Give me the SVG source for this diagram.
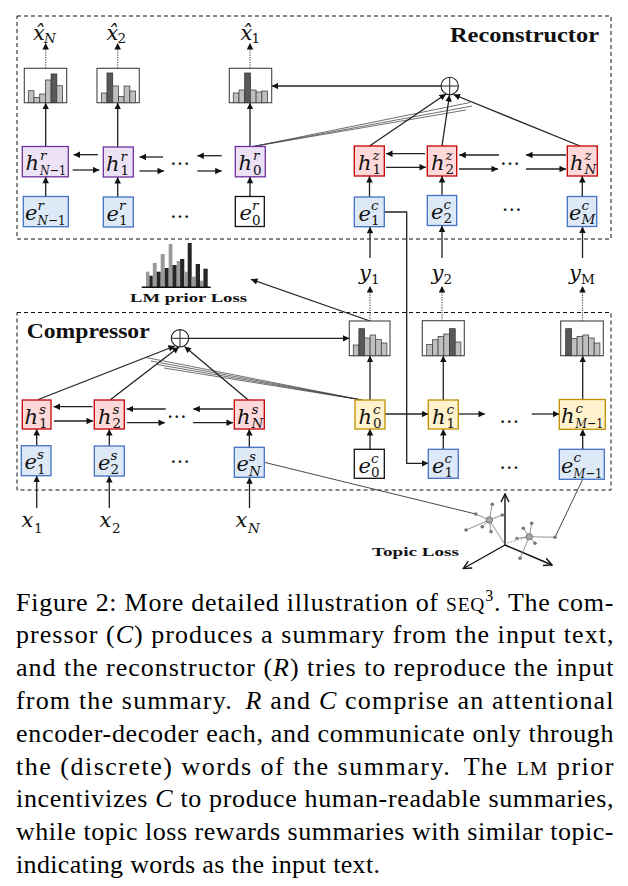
<svg xmlns="http://www.w3.org/2000/svg" width="628" height="886" viewBox="0 0 628 886">
<style>
.dash{fill:none;stroke:#111;stroke-width:1;stroke-dasharray:4 3}
.hr{fill:#ede1f5;stroke:#7030a0;stroke-width:1.3}
.hz{fill:#ffd9d9;stroke:#c00000;stroke-width:1.3}
.eb{fill:#dde9f6;stroke:#4472c4;stroke-width:1.3}
.ew{fill:#fff;stroke:#111;stroke-width:1.3}
.hc{fill:#fff2cc;stroke:#bf9000;stroke-width:1.3}
.hist{fill:#fff;stroke:#444;stroke-width:1.1}
.bl{fill:#bfbfbf;stroke:#444;stroke-width:0.8}
.bd{fill:#595959;stroke:#333;stroke-width:0.8}
.ln{fill:none;stroke:#222;stroke-width:1.3}
.fan{fill:none;stroke:#333;stroke-width:0.7}
.a{marker-end:url(#ah)}
.dt{fill:none;stroke:#555;stroke-width:1.2;stroke-dasharray:1.2 1.3;marker-end:url(#ah)}
.thin{fill:none;stroke:#333;stroke-width:0.9}
.spk{fill:none;stroke:#777;stroke-width:0.8}
.pt{fill:#777}
.ctr{fill:#a6a6a6;stroke:#666;stroke-width:0.8}
.ax{fill:none;stroke:#111;stroke-width:1.4;marker-end:url(#oa)}
.m{font-family:"DejaVu Serif",serif;font-style:italic;font-size:21px;fill:#111}
.s{font-family:"DejaVu Serif",serif;font-style:italic;font-size:13.5px;fill:#111}
.su{font-style:normal}
.ttl{font-family:"Liberation Serif","Times New Roman",serif;font-weight:bold;fill:#111}
.dots{font-family:"DejaVu Serif",serif;font-size:20px;fill:#111}
.cap{font-family:"Liberation Serif","Times New Roman",serif;font-size:26px;fill:#000}
.gb{fill:#999}
.db{fill:#262626}
</style>
<defs>
<marker id="ah" viewBox="0 0 10 10" refX="10" refY="5" markerWidth="7" markerHeight="6.5" markerUnits="userSpaceOnUse" orient="auto"><path d="M0,0 L10,5 L0,10 z" fill="#111"/></marker>
<marker id="oa" viewBox="0 0 10 10" refX="9" refY="5" markerWidth="10" markerHeight="10" markerUnits="userSpaceOnUse" orient="auto"><path d="M1,1 L9,5 L1,9" fill="none" stroke="#111" stroke-width="1.4"/></marker>
</defs>

<!-- containers -->
<g id="reconstructor">
<rect class="dash" x="17" y="16" width="594" height="223"/>
<text class="ttl" x="450" y="42" font-size="20" textLength="149" lengthAdjust="spacingAndGlyphs">Reconstructor</text>
</g>
<g id="compressor">
<rect class="dash" x="17" y="312.5" width="594" height="177.5"/>
<text class="ttl" x="26.7" y="338" font-size="20" textLength="123" lengthAdjust="spacingAndGlyphs">Compressor</text>
</g>

<!-- connectors -->
<g id="connectors">
<line class="ln a" x1="45.7" y1="146.5" x2="45.7" y2="102.7"/>
<line class="ln a" x1="117.7" y1="147" x2="117.7" y2="102.7"/>
<line class="ln a" x1="250" y1="146.5" x2="250" y2="102.7"/>
<line class="ln a" x1="45.7" y1="196.5" x2="45.7" y2="176.8"/>
<line class="ln a" x1="117.7" y1="197" x2="117.7" y2="177"/>
<line class="ln a" x1="250" y1="196.5" x2="250" y2="176.8"/>
<line class="ln a" x1="369.5" y1="197" x2="369.5" y2="176"/>
<line class="ln a" x1="442" y1="195.5" x2="442" y2="176"/>
<line class="ln a" x1="582.3" y1="196.5" x2="582.3" y2="176"/>
<line class="dt" x1="45.7" y1="68.3" x2="45.7" y2="43"/>
<line class="dt" x1="117.7" y1="68.3" x2="117.7" y2="43"/>
<line class="dt" x1="250" y1="68.3" x2="250" y2="43"/>
<line class="ln a" x1="98" y1="154.7" x2="73.5" y2="154.7"/>
<line class="ln a" x1="72.7" y1="170" x2="99.3" y2="170"/>
<line class="ln a" x1="163" y1="157" x2="139.5" y2="157"/>
<line class="ln a" x1="139.5" y1="171" x2="164" y2="171"/>
<line class="ln a" x1="221.7" y1="155.7" x2="197.3" y2="155.7"/>
<line class="ln a" x1="197.3" y1="171" x2="221.7" y2="171"/>
<line class="ln a" x1="425" y1="153.7" x2="386" y2="153.7"/>
<line class="ln a" x1="386" y1="167.3" x2="426" y2="167.3"/>
<line class="ln a" x1="499" y1="155" x2="459.3" y2="155"/>
<line class="ln a" x1="459" y1="169" x2="498" y2="169"/>
<line class="ln a" x1="566" y1="155" x2="526" y2="155"/>
<line class="ln a" x1="526" y1="169" x2="566" y2="169"/>
<line class="ln a" x1="441" y1="86" x2="271.7" y2="86"/>
<line class="ln a" x1="369.5" y1="146" x2="446" y2="94"/>
<line class="ln a" x1="442" y1="146" x2="449.5" y2="95"/>
<line class="ln a" x1="580" y1="146" x2="453.5" y2="94.5"/>
<line class="fan" x1="253" y1="146.5" x2="470" y2="102.5"/>
<line class="fan" x1="253" y1="146.5" x2="472" y2="106"/>
<line class="fan" x1="253" y1="146.5" x2="466" y2="110"/>
<line class="ln a" x1="370" y1="258" x2="370" y2="226.8"/>
<line class="ln a" x1="442" y1="258" x2="442" y2="225.5"/>
<line class="ln a" x1="582.5" y1="258" x2="582.5" y2="226.6"/>
<line class="dt" x1="370" y1="321" x2="370" y2="286"/>
<line class="dt" x1="442" y1="320.7" x2="442" y2="286"/>
<line class="dt" x1="582.5" y1="321" x2="582.5" y2="286"/>
<polyline class="ln a" points="384.3,212 406.7,212 406.7,463.3 428.3,463.3"/>
<line class="ln a" x1="370" y1="321" x2="251" y2="279.3"/>
<line class="ln a" x1="36.7" y1="445.7" x2="36.7" y2="429"/>
<line class="ln a" x1="109.3" y1="446" x2="109.3" y2="429"/>
<line class="ln a" x1="249.3" y1="447.3" x2="249.3" y2="429"/>
<line class="ln a" x1="370" y1="449.3" x2="370" y2="429"/>
<line class="ln a" x1="443.3" y1="449.3" x2="443.3" y2="429"/>
<line class="ln a" x1="582.7" y1="449.3" x2="582.7" y2="429.3"/>
<line class="ln a" x1="370" y1="400" x2="370" y2="355.7"/>
<line class="ln a" x1="443.3" y1="400" x2="443.3" y2="355.7"/>
<line class="ln a" x1="582.7" y1="399.5" x2="582.7" y2="355.7"/>
<line class="ln a" x1="36.7" y1="508" x2="36.7" y2="475.7"/>
<line class="ln a" x1="109.3" y1="508" x2="109.3" y2="476"/>
<line class="ln a" x1="249.5" y1="508" x2="249.5" y2="477.3"/>
<line class="ln a" x1="92.5" y1="406.7" x2="53.5" y2="406.7"/>
<line class="ln a" x1="54" y1="421" x2="93" y2="421"/>
<line class="ln a" x1="165.7" y1="409" x2="126.7" y2="409"/>
<line class="ln a" x1="127" y1="422.7" x2="165" y2="422.7"/>
<line class="ln a" x1="233" y1="409" x2="193.3" y2="409"/>
<line class="ln a" x1="193" y1="422.7" x2="233" y2="422.7"/>
<line class="ln a" x1="385" y1="414" x2="428.3" y2="414"/>
<line class="ln a" x1="458.3" y1="414" x2="485" y2="414"/>
<line class="ln a" x1="531.7" y1="414" x2="559.3" y2="414"/>
<line class="ln a" x1="189" y1="338.3" x2="349.3" y2="338.3"/>
<line class="ln a" x1="38.3" y1="399.5" x2="175" y2="346"/>
<line class="ln a" x1="110" y1="400" x2="179" y2="347"/>
<line class="ln a" x1="248.3" y1="400" x2="184.5" y2="346.5"/>
<line class="fan" x1="362" y1="400" x2="146" y2="357.5"/>
<line class="fan" x1="362" y1="400" x2="151" y2="361"/>
<line class="fan" x1="362" y1="400" x2="157" y2="364.5"/>
<line class="fan" x1="362" y1="400" x2="164" y2="368"/>
<line class="thin" x1="264.3" y1="462.3" x2="475.7" y2="514"/>
<line class="thin" x1="582.7" y1="479.3" x2="555" y2="537.3"/>
</g>

<g id="sum-recon">
<circle cx="449.7" cy="86" r="8.7" fill="#fff" stroke="#222" stroke-width="1.1"/>
<line x1="441" y1="86" x2="458.4" y2="86" stroke="#222" stroke-width="1"/>
<line x1="449.7" y1="77.3" x2="449.7" y2="94.7" stroke="#222" stroke-width="1"/>
</g>
<g id="sum-comp">
<circle cx="180" cy="338.3" r="8.7" fill="#fff" stroke="#222" stroke-width="1.1"/>
<line x1="171.3" y1="338.3" x2="188.7" y2="338.3" stroke="#222" stroke-width="1"/>
<line x1="180" y1="329.6" x2="180" y2="347" stroke="#222" stroke-width="1"/>
</g>

<g id="hist-xN">
<rect class="hist" x="24.3" y="68.3" width="42.4" height="34.4"/>
<rect class="bl" x="28.3" y="90.7" width="5.7" height="12"/>
<rect class="bl" x="34" y="97.4" width="5.7" height="5.3"/>
<rect class="bl" x="39.7" y="94" width="5.7" height="8.7"/>
<rect class="bl" x="45.4" y="80" width="5.7" height="22.7"/>
<rect class="bd" x="51.1" y="74" width="5.7" height="28.7"/>
<rect class="bl" x="56.8" y="85.7" width="5.7" height="17"/>
<text class="m" x="33" y="39.5">x&#x302;</text><text class="s" x="44" y="43">N</text>
</g>
<g id="hist-x2">
<rect class="hist" x="97" y="68.3" width="42.3" height="34.4"/>
<rect class="bl" x="101.3" y="93" width="5.7" height="9.7"/>
<rect class="bd" x="107" y="73" width="5.7" height="29.7"/>
<rect class="bl" x="112.7" y="86" width="5.7" height="16.7"/>
<rect class="bl" x="118.4" y="96.4" width="5.7" height="6.3"/>
<rect class="bl" x="124.1" y="86" width="5.7" height="16.7"/>
<rect class="bl" x="129.8" y="91" width="5.7" height="11.7"/>
<text class="m" x="106.5" y="39.5">x&#x302;</text><text class="s su" x="117.5" y="43">2</text>
</g>
<g id="hist-x1">
<rect class="hist" x="229.3" y="68.3" width="42.4" height="34.4"/>
<rect class="bl" x="233.3" y="93" width="5.7" height="9.7"/>
<rect class="bl" x="239" y="90" width="5.7" height="12.7"/>
<rect class="bd" x="244.7" y="73" width="5.7" height="29.7"/>
<rect class="bl" x="250.4" y="90" width="5.7" height="12.7"/>
<rect class="bl" x="256.1" y="92" width="5.7" height="10.7"/>
<rect class="bl" x="261.8" y="91" width="5.7" height="11.7"/>
<text class="m" x="240.5" y="39.5">x&#x302;</text><text class="s su" x="251.5" y="43">1</text>
</g>

<g id="hr-N1"><rect class="hr" x="22.3" y="146.5" width="46" height="30.3"/>
<text class="m" x="25.5" y="170">h</text><text class="s" x="40" y="160">r</text><text class="s" x="40" y="174.8" textLength="26" lengthAdjust="spacingAndGlyphs">N<tspan class="su">−1</tspan></text></g>
<g id="hr-1"><rect class="hr" x="103.3" y="147" width="30" height="30"/>
<text class="m" x="106" y="170.5">h</text><text class="s" x="120.5" y="160.5">r</text><text class="s su" x="120.5" y="175.3">1</text></g>
<g id="hr-0"><rect class="hr" x="235.3" y="146.5" width="30" height="30.3"/>
<text class="m" x="238.5" y="170">h</text><text class="s" x="253" y="160">r</text><text class="s su" x="253" y="174.8">0</text></g>
<g id="er-N1"><rect class="eb" x="23.3" y="196.5" width="45" height="30.2"/>
<text class="m" x="25" y="220">e</text><text class="s" x="37.5" y="209.5">r</text><text class="s" x="37.5" y="224.5" textLength="28" lengthAdjust="spacingAndGlyphs">N<tspan class="su">−1</tspan></text></g>
<g id="er-1"><rect class="eb" x="103.3" y="197" width="30" height="30"/>
<text class="m" x="106.5" y="220.5">e</text><text class="s" x="119" y="210">r</text><text class="s su" x="119" y="225">1</text></g>
<g id="er-0"><rect class="ew" x="235.3" y="196.5" width="29" height="30"/>
<text class="m" x="239.5" y="220">e</text><text class="s" x="252" y="209.5">r</text><text class="s su" x="252" y="224.5">0</text></g>
<text class="dots" x="180" y="165" text-anchor="middle">…</text>
<text class="dots" x="180" y="218" text-anchor="middle">…</text>

<g id="hz-1"><rect class="hz" x="354.3" y="146" width="30" height="30"/>
<text class="m" x="358" y="169.5">h</text><text class="s" x="372.5" y="159.5">z</text><text class="s su" x="372.5" y="174.3">1</text></g>
<g id="hz-2"><rect class="hz" x="427.3" y="146" width="29.4" height="30"/>
<text class="m" x="431" y="169.5">h</text><text class="s" x="445.5" y="159.5">z</text><text class="s su" x="445.5" y="174.3">2</text></g>
<g id="hz-N"><rect class="hz" x="567.3" y="146" width="30" height="30"/>
<text class="m" x="570" y="169.5">h</text><text class="s" x="584.5" y="159.5">z</text><text class="s" x="584.5" y="174.3">N</text></g>
<g id="ec-1r"><rect class="eb" x="354.3" y="197" width="30" height="29.7"/>
<text class="m" x="358.5" y="220.5">e</text><text class="s" x="371" y="210">c</text><text class="s su" x="371" y="224.8">1</text></g>
<g id="ec-2r"><rect class="eb" x="427.3" y="195.5" width="29.4" height="30"/>
<text class="m" x="431" y="219">e</text><text class="s" x="443.5" y="208.5">c</text><text class="s su" x="443.5" y="223.3">2</text></g>
<g id="ec-Mr"><rect class="eb" x="567.3" y="196.5" width="29.4" height="30"/>
<text class="m" x="569" y="220">e</text><text class="s" x="581.5" y="209.5">c</text><text class="s" x="581.5" y="224.3">M</text></g>
<text class="dots" x="510" y="164.5" text-anchor="middle">…</text>
<text class="dots" x="511.7" y="211" text-anchor="middle">…</text>

<g id="y1"><text class="m" x="359" y="280">y</text><text class="s su" x="371" y="283.5">1</text></g>
<g id="y2"><text class="m" x="431.5" y="280">y</text><text class="s su" x="443.5" y="283.5">2</text></g>
<g id="yM"><text class="m" x="569" y="280">y</text><text class="s su" x="581" y="283.5">M</text></g>

<g id="lm-prior">
<rect class="gb" x="146" y="271.7" width="3.4" height="15.6"/>
<rect class="db" x="149.4" y="275.7" width="3.4" height="11.6"/>
<rect class="gb" x="152.8" y="263" width="3.9" height="24.3"/>
<rect class="db" x="156.7" y="271.7" width="4" height="15.6"/>
<rect class="gb" x="160.7" y="254" width="4" height="33.3"/>
<rect class="db" x="164.7" y="268" width="4" height="19.3"/>
<rect class="gb" x="168.7" y="244" width="3.7" height="43.3"/>
<rect class="db" x="172.4" y="265" width="4.3" height="22.3"/>
<rect class="gb" x="176.7" y="261" width="3.4" height="26.3"/>
<rect class="db" x="180.1" y="259" width="4.2" height="28.3"/>
<rect class="gb" x="184.3" y="271.7" width="3.4" height="15.6"/>
<rect class="db" x="187.7" y="243" width="4" height="44.3"/>
<rect class="gb" x="191.7" y="276.7" width="4" height="10.6"/>
<rect class="db" x="195.7" y="264" width="4.3" height="23.3"/>
<rect class="gb" x="200" y="280.7" width="3.4" height="6.6"/>
<rect class="db" x="203.4" y="268.7" width="4.3" height="18.6"/>
<line x1="141.7" y1="287.3" x2="210.7" y2="287.3" stroke="#111" stroke-width="1.5"/>
<text class="ttl" x="130" y="302.3" font-size="13.5" textLength="117" lengthAdjust="spacingAndGlyphs">LM prior Loss</text>
</g>

<g id="hist-c0">
<rect class="hist" x="349.3" y="321" width="40.7" height="34.7"/>
<rect class="bl" x="353.3" y="345" width="5.6" height="10.7"/>
<rect class="bd" x="358.9" y="328.7" width="5.6" height="27"/>
<rect class="bl" x="364.5" y="338" width="5.6" height="17.7"/>
<rect class="bl" x="370.1" y="335" width="5.6" height="20.7"/>
<rect class="bl" x="375.7" y="339.4" width="5.6" height="16.3"/>
<rect class="bl" x="381.3" y="343" width="5.6" height="12.7"/>
</g>
<g id="hist-c1">
<rect class="hist" x="422.3" y="320.7" width="42" height="35"/>
<rect class="bl" x="426.7" y="344.4" width="5.7" height="11.3"/>
<rect class="bl" x="432.4" y="339.7" width="5.7" height="16"/>
<rect class="bl" x="438.1" y="336.4" width="5.7" height="19.3"/>
<rect class="bl" x="443.8" y="334" width="5.7" height="21.7"/>
<rect class="bd" x="449.5" y="328.7" width="5.7" height="27"/>
<rect class="bl" x="455.2" y="342" width="5.7" height="13.7"/>
</g>
<g id="hist-cM">
<rect class="hist" x="560.7" y="321" width="42.6" height="34.7"/>
<rect class="bd" x="565.7" y="328.7" width="5.7" height="27"/>
<rect class="bl" x="571.4" y="338.4" width="5.7" height="17.3"/>
<rect class="bl" x="577.1" y="336.4" width="5.7" height="19.3"/>
<rect class="bl" x="582.8" y="335" width="5.7" height="20.7"/>
<rect class="bl" x="588.5" y="338" width="5.7" height="17.7"/>
<rect class="bl" x="594.2" y="343" width="5.7" height="12.7"/>
</g>

<g id="hs-1"><rect class="hz" x="22.3" y="400" width="28.7" height="29"/>
<text class="m" x="24.5" y="423.5">h</text><text class="s" x="39" y="413.5">s</text><text class="s su" x="39" y="427.8">1</text></g>
<g id="hs-2"><rect class="hz" x="94.3" y="400" width="30" height="29"/>
<text class="m" x="98" y="423.5">h</text><text class="s" x="112.5" y="413.5">s</text><text class="s su" x="112.5" y="427.8">2</text></g>
<g id="hs-N"><rect class="hz" x="234.3" y="400" width="30" height="29"/>
<text class="m" x="237" y="423.5">h</text><text class="s" x="251.5" y="413.5">s</text><text class="s" x="251.5" y="427.8">N</text></g>
<g id="es-1"><rect class="eb" x="21.3" y="445.7" width="29.7" height="30"/>
<text class="m" x="24.5" y="469.2">e</text><text class="s" x="37" y="459">s</text><text class="s su" x="37" y="473.8">1</text></g>
<g id="es-2"><rect class="eb" x="94.3" y="446" width="30" height="30"/>
<text class="m" x="98" y="469.5">e</text><text class="s" x="110.5" y="459.5">s</text><text class="s su" x="110.5" y="474.2">2</text></g>
<g id="es-N"><rect class="eb" x="234.3" y="447.3" width="30" height="30"/>
<text class="m" x="236.5" y="470.8">e</text><text class="s" x="249" y="460.8">s</text><text class="s" x="249" y="475.5">N</text></g>
<text class="dots" x="176.7" y="417.5" text-anchor="middle">…</text>
<text class="dots" x="180" y="463" text-anchor="middle">…</text>

<g id="hc-0"><rect class="hc" x="355" y="400" width="30" height="29"/>
<text class="m" x="358.5" y="423.5">h</text><text class="s" x="373" y="413.5">c</text><text class="s su" x="373" y="427.8">0</text></g>
<g id="hc-1"><rect class="hc" x="428.3" y="400" width="30" height="29"/>
<text class="m" x="432" y="423.5">h</text><text class="s" x="446.5" y="413.5">c</text><text class="s su" x="446.5" y="427.8">1</text></g>
<g id="hc-M1"><rect class="hc" x="559.3" y="399.5" width="46" height="29.8"/>
<text class="m" x="561" y="423.3">h</text><text class="s" x="575.5" y="412.5">c</text><text class="s" x="575.5" y="428" textLength="28" lengthAdjust="spacingAndGlyphs">M<tspan class="su">−1</tspan></text></g>
<g id="ec-0c"><rect class="ew" x="354.3" y="449.3" width="30" height="29"/>
<text class="m" x="358.5" y="472.8">e</text><text class="s" x="371" y="462.5">c</text><text class="s su" x="371" y="477.2">0</text></g>
<g id="ec-1c"><rect class="eb" x="428.3" y="449.3" width="30" height="29"/>
<text class="m" x="432" y="472.8">e</text><text class="s" x="444.5" y="462.5">c</text><text class="s su" x="444.5" y="477.2">1</text></g>
<g id="ec-M1c"><rect class="eb" x="559.3" y="449.3" width="45" height="30"/>
<text class="m" x="561" y="473">e</text><text class="s" x="573.5" y="462">c</text><text class="s" x="573.5" y="477.8" textLength="29" lengthAdjust="spacingAndGlyphs">M<tspan class="su">−1</tspan></text></g>
<text class="dots" x="509.3" y="423" text-anchor="middle">…</text>
<text class="dots" x="509.3" y="469" text-anchor="middle">…</text>

<g id="x1"><text class="m" x="21.5" y="527">x</text><text class="s su" x="34" y="532.5">1</text></g>
<g id="x2"><text class="m" x="99.5" y="527">x</text><text class="s su" x="112" y="532.5">2</text></g>
<g id="xN"><text class="m" x="235.5" y="527">x</text><text class="s" x="248" y="532.5">N</text></g>

<g id="topic-loss">
<line class="ax" x1="505" y1="545" x2="505" y2="494"/>
<line class="ax" x1="505" y1="545" x2="463.3" y2="568.5"/>
<line class="ax" x1="505" y1="545" x2="552" y2="565"/>
<line class="spk" x1="489.3" y1="520" x2="492.3" y2="504.3"/>
<line class="spk" x1="489.3" y1="520" x2="502.3" y2="515"/>
<line class="spk" x1="489.3" y1="520" x2="491" y2="531.7"/>
<line class="spk" x1="489.3" y1="520" x2="482.3" y2="526.7"/>
<line class="spk" x1="489.3" y1="520" x2="466" y2="530"/>
<line class="spk" x1="489.3" y1="520" x2="475.7" y2="514"/>
<line class="spk" x1="489.3" y1="520" x2="504" y2="543"/>
<line class="spk" x1="529.3" y1="536.7" x2="531.7" y2="523.3"/>
<line class="spk" x1="529.3" y1="536.7" x2="523.3" y2="528.3"/>
<line class="spk" x1="529.3" y1="536.7" x2="535" y2="543.3"/>
<line class="spk" x1="529.3" y1="536.7" x2="520" y2="558.3"/>
<line class="spk" x1="529.3" y1="536.7" x2="555" y2="537.3"/>
<line class="spk" x1="529.3" y1="536.7" x2="516.7" y2="538.3"/>
<line class="spk" stroke-dasharray="2 1.5" x1="529.3" y1="536.7" x2="507" y2="543"/>
<circle class="pt" cx="492.3" cy="504.3" r="1.8"/>
<circle class="pt" cx="502.3" cy="515" r="1.8"/>
<circle class="pt" cx="491" cy="531.7" r="1.8"/>
<circle class="pt" cx="482.3" cy="526.7" r="1.8"/>
<circle class="pt" cx="466" cy="530" r="1.8"/>
<circle class="pt" cx="475.7" cy="514" r="1.8"/>
<circle class="ctr" cx="489.3" cy="520" r="3.2"/>
<circle class="pt" cx="531.7" cy="523.3" r="1.8"/>
<circle class="pt" cx="523.3" cy="528.3" r="1.8"/>
<circle class="pt" cx="535" cy="543.3" r="1.8"/>
<circle class="pt" cx="520" cy="558.3" r="1.8"/>
<circle class="pt" cx="555" cy="537.3" r="1.8"/>
<circle class="pt" cx="516.7" cy="538.3" r="1.5"/>
<circle class="ctr" cx="529.3" cy="536.7" r="3.2"/>
<text class="ttl" x="372" y="556" font-size="13" textLength="87" lengthAdjust="spacingAndGlyphs">Topic Loss</text>
</g>

<g id="caption">
<text class="cap" x="16" y="610.5" textLength="597.5" lengthAdjust="spacing">Figure 2: More detailed illustration of <tspan font-size="19.5">SEQ</tspan><tspan font-size="16" dy="-10">3</tspan><tspan dy="10">. The com-</tspan></text>
<text class="cap" x="16" y="643.3" textLength="597.5" lengthAdjust="spacing">pressor (<tspan font-style="italic">C</tspan>) produces a summary from the input text,</text>
<text class="cap" x="16" y="676.1" textLength="597.5" lengthAdjust="spacing">and the reconstructor (<tspan font-style="italic">R</tspan>) tries to reproduce the input</text>
<text class="cap" x="16" y="708.9" textLength="597.5" lengthAdjust="spacing">from the summary. <tspan dx="5" font-style="italic">R</tspan> and <tspan font-style="italic">C</tspan> comprise an attentional</text>
<text class="cap" x="16" y="741.7" textLength="597.5" lengthAdjust="spacing">encoder-decoder each, and communicate only through</text>
<text class="cap" x="16" y="774.5" textLength="597.5" lengthAdjust="spacing">the (discrete) words of the summary. <tspan dx="5">The</tspan> <tspan font-size="19.5">LM</tspan> prior</text>
<text class="cap" x="16" y="807.3" textLength="597.5" lengthAdjust="spacing">incentivizes <tspan font-style="italic">C</tspan> to produce human-readable summaries,</text>
<text class="cap" x="16" y="840.1" textLength="597.5" lengthAdjust="spacing">while topic loss rewards summaries with similar topic-</text>
<text class="cap" x="16" y="872.9" textLength="364" lengthAdjust="spacing">indicating words as the input text.</text>
</g>
</svg>
